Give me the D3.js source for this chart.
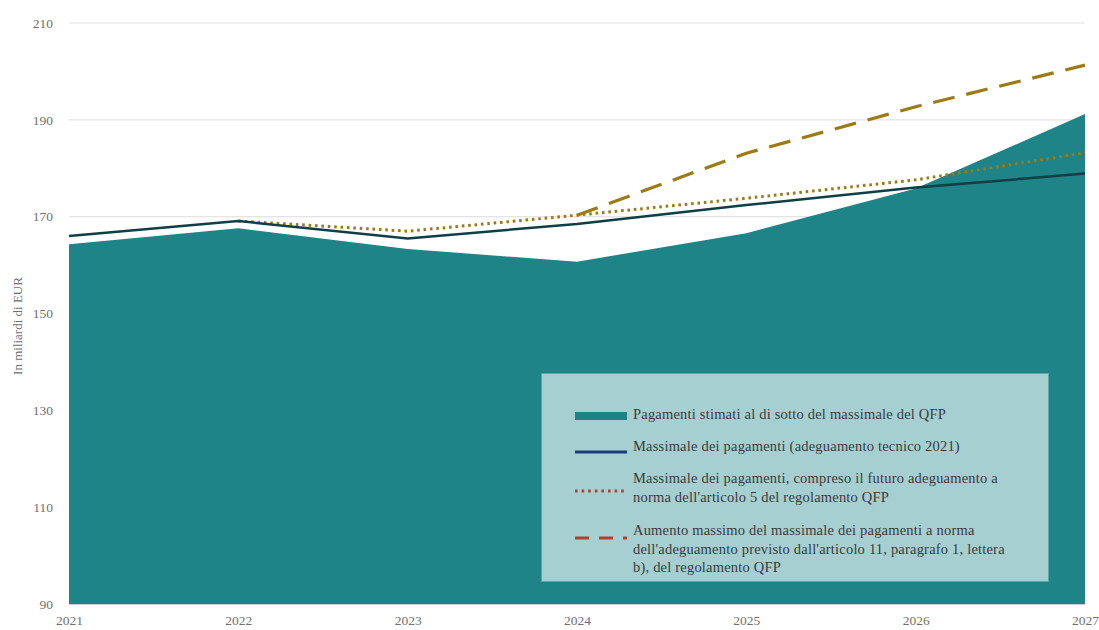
<!DOCTYPE html>
<html><head><meta charset="utf-8">
<script src="https://cdn.jsdelivr.net/npm/d3@7"></script>
<style>
html,body{margin:0;padding:0;background:#fff;}
svg{display:block;font-family:"Liberation Serif","DejaVu Serif",serif;}
</style></head>
<body><svg id="c" width="1099" height="630"></svg>
<script>
const years = [2021, 2022, 2023, 2024, 2025, 2026, 2027];
const yTicks = [90, 110, 130, 150, 170, 190, 210];
const pagamenti = [164.3, 167.6, 163.3, 160.7, 166.6, 175.8, 191.2];
const massimaleTecnico = [166.0, 169.1, 165.5, 168.5, 172.4, 176.0, 178.9];
const massimaleArt5 = [null, 169.1, 167.0, 170.3, 173.8, 177.6, 183.2];
const aumentoArt11 = [null, null, null, 170.3, 183.1, 192.7, 201.3];
const yTitle = "In miliardi di EUR";
const legendItems = [
  {kind:"area", lines:["Pagamenti stimati al di sotto del massimale del QFP"]},
  {kind:"solid", lines:["Massimale dei pagamenti (adeguamento tecnico 2021)"]},
  {kind:"dotted", lines:["Massimale dei pagamenti, compreso il futuro adeguamento a","norma dell'articolo 5 del regolamento QFP"]},
  {kind:"dashed", lines:["Aumento massimo del massimale dei pagamenti a norma","dell'adeguamento previsto dall'articolo 11, paragrafo 1, lettera","b), del regolamento QFP"]}
];

const svg = d3.select("#c");
const x = d3.scaleLinear().domain([2021, 2027]).range([69, 1085]);
const y = d3.scaleLinear().domain([90, 210]).range([604, 23]);

const teal = "#1f8488", dark = "#0f3e45", gold = "#9c7a14";

// grid
svg.append("g").selectAll("line").data(yTicks.slice(1)).join("line")
  .attr("x1", 69).attr("x2", 1085)
  .attr("y1", d => y(d)).attr("y2", d => y(d))
  .attr("stroke", "#e3e3e3").attr("stroke-width", 1.2);

// area
const area = d3.area().x((d,i) => x(years[i])).y0(y(90)).y1(d => y(d));
svg.append("path").datum(pagamenti).attr("d", area).attr("fill", teal);

// baseline
svg.append("line").attr("x1", 69).attr("x2", 1085).attr("y1", y(90)+0.5).attr("y2", y(90)+0.5)
  .attr("stroke", "#bcd6d8").attr("stroke-width", 1);

const line = d3.line().defined(d => d != null).x((d,i) => x(years[i])).y(d => y(d));
svg.append("path").datum(massimaleArt5).attr("d", line).attr("fill","none")
  .attr("stroke", gold).attr("stroke-width", 3).attr("stroke-dasharray", "2.6,3.8");
svg.append("path").datum(aumentoArt11).attr("d", line).attr("fill","none")
  .attr("stroke", gold).attr("stroke-width", 3.2).attr("stroke-dasharray", "22,12");
svg.append("path").datum(massimaleTecnico).attr("d", line).attr("fill","none")
  .attr("stroke", dark).attr("stroke-width", 2.5);

// axes
const yAxis = d3.axisLeft(y).tickValues(yTicks).tickSize(0).tickPadding(0);
const gy = svg.append("g").attr("transform", "translate(53,0)").call(yAxis);
gy.select(".domain").remove();
gy.selectAll("text").attr("font-size", 13.5).attr("fill", "#707070")
  .attr("font-family", "'Liberation Serif',serif");

const xAxis = d3.axisBottom(x).tickValues(years).tickFormat(d3.format("d")).tickSize(0).tickPadding(0);
const gx = svg.append("g").attr("transform", "translate(0,615)").call(xAxis);
gx.select(".domain").remove();
gx.selectAll("text").attr("font-size", 13.5).attr("fill", "#707070")
  .attr("font-family", "'Liberation Serif',serif");

svg.append("text").attr("transform", "translate(22,326) rotate(-90)")
  .attr("text-anchor", "middle").attr("font-size", 13).attr("fill", "#707070")
  .text(yTitle);

// legend
const lg = svg.append("g");
lg.append("rect").attr("x", 541.5).attr("y", 373.5).attr("width", 507).attr("height", 208)
  .attr("fill", "#a6cfd1").attr("stroke", "#5aa8aa").attr("stroke-width", 1);
const rowY = [414, 446, 478, 530];
const symY = [416, 452, 491, 538];
legendItems.forEach((it, i) => {
  const sx1 = 575, sx2 = 627, sy = symY[i];
  if (it.kind === "area") {
    lg.append("rect").attr("x", sx1).attr("y", sy-4).attr("width", sx2-sx1).attr("height", 8).attr("fill", teal);
  } else if (it.kind === "solid") {
    lg.append("line").attr("x1", sx1).attr("x2", sx2).attr("y1", sy).attr("y2", sy)
      .attr("stroke", "#1a3a78").attr("stroke-width", 3);
  } else if (it.kind === "dotted") {
    lg.append("line").attr("x1", sx1).attr("x2", sx2).attr("y1", sy).attr("y2", sy)
      .attr("stroke", "#b2402a").attr("stroke-width", 3).attr("stroke-dasharray", "2.6,4");
  } else {
    lg.append("line").attr("x1", sx1).attr("x2", sx2).attr("y1", sy).attr("y2", sy)
      .attr("stroke", "#b2402a").attr("stroke-width", 3).attr("stroke-dasharray", "14,10");
  }
  it.lines.forEach((t, j) => {
    lg.append("text").attr("x", 633).attr("y", rowY[i] + j*18.5 + 5)
      .attr("font-size", 14.5).attr("letter-spacing", 0.2).attr("fill", "#3a3a3a").text(t);
  });
});
</script></body></html>
